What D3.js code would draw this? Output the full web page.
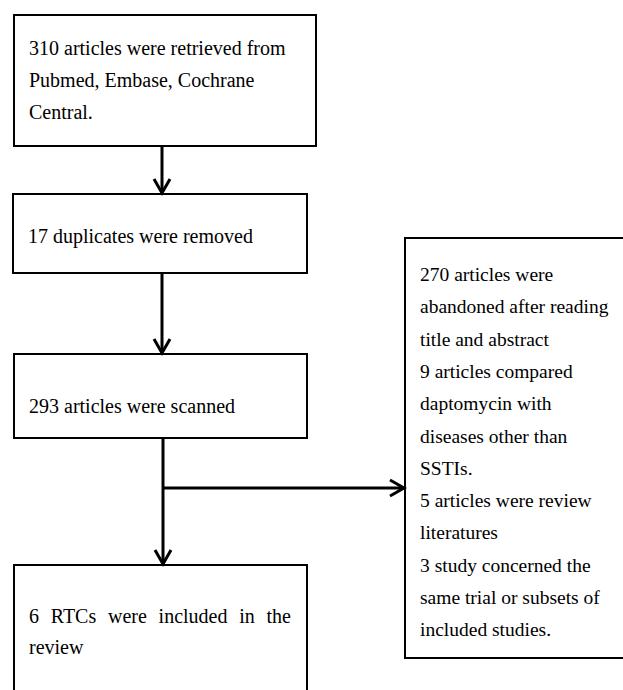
<!DOCTYPE html>
<html>
<head>
<meta charset="utf-8">
<script src="https://cdn.jsdelivr.net/npm/d3@7"></script>
<style>
  body { margin: 0; background: #fff; }
</style>
</head>
<body>
<div id="chart"></div>
<script>
// stage texts, one entry per printed line
const retrievedLines = ['310 articles were retrieved from', 'Pubmed, Embase, Cochrane', 'Central.'];
const duplicateLines = ['17 duplicates were removed'];
const scannedLines = ['293 articles were scanned'];
const includedLines = ['6 RTCs were included in the', 'review'];
const excludedLines = [
    '270 articles were',
    'abandoned after reading',
    'title and abstract',
    '9 articles compared',
    'daptomycin with',
    'diseases other than',
    'SSTIs.',
    '5 articles were review',
    'literatures',
    '3 study concerned the',
    'same trial or subsets of',
    'included studies.'
];

const width = 623, height = 690;

// layout of the boxes (page pixels)
const layout = {
    retrieved: { x0: 14, x1: 316, y0: 15, y1: 146, base: 55, gap: 32.2, size: 20 },
    duplicate: { x0: 13, x1: 307, y0: 194, y1: 273, base: 243, gap: 32, size: 20 },
    scanned:   { x0: 14, x1: 307, y0: 354, y1: 438, base: 413, gap: 32, size: 20 },
    included:  { x0: 14, x1: 307, y0: 565, y1: 700, base: 623, gap: 31, size: 20, justify: true },
    excluded:  { x0: 405, x1: 640, y0: 238, y1: 658, base: 281, gap: 32.3, size: 19.5, pad: 15 }
};

const stages = [
    { id: 'retrieved', lines: retrievedLines },
    { id: 'duplicate', lines: duplicateLines },
    { id: 'scanned', lines: scannedLines },
    { id: 'included', lines: includedLines },
    { id: 'excluded', lines: excludedLines }
];

const svg = d3.select('#chart')
    .append('svg')
    .attr('width', width)
    .attr('height', height);

const font = '"Liberation Serif", "Times New Roman", Times, serif';

// Boxes
const box = svg.append('g')
    .selectAll('g')
    .data(stages)
    .join('g');

box.append('rect')
    .attr('x', d => layout[d.id].x0)
    .attr('y', d => layout[d.id].y0)
    .attr('width', d => layout[d.id].x1 - layout[d.id].x0)
    .attr('height', d => layout[d.id].y1 - layout[d.id].y0)
    .attr('fill', '#fff')
    .attr('stroke', '#000')
    .attr('stroke-width', 2);

box.each(function(d) {
    const L = layout[d.id];
    const tx = L.x0 + (L.pad || 15);
    const g = d3.select(this);
    d.lines.forEach((line, i) => {
        const t = g.append('text')
            .attr('x', tx)
            .attr('y', L.base + i * L.gap)
            .attr('font-family', font)
            .attr('font-size', L.size)
            .attr('fill', '#000')
            .text(line);
        // justified first line in the last box
        if (L.justify && i < d.lines.length - 1) {
            const words = line.split(' ');
            const natural = t.node().getComputedTextLength();
            const target = L.x1 - 16 - tx;
            t.attr('word-spacing', (target - natural) / (words.length - 1));
        }
    });
});

// Connectors
const stemX = 162;
const arrowStroke = 3;

function arrowHead(x, y, dir) {
    // open chevron, tip at (x, y)
    const back = 14, spread = 8;
    if (dir === 'down') return `M${x - spread},${y - back}L${x},${y}L${x + spread},${y - back}`;
    return `M${x - back},${y - spread}L${x},${y}L${x - back},${y + spread}`;
}

const connectors = [
    { x1: stemX, y1: layout.retrieved.y1, x2: stemX, y2: layout.duplicate.y0, dir: 'down' },
    { x1: stemX, y1: layout.duplicate.y1, x2: stemX, y2: layout.scanned.y0, dir: 'down' },
    { x1: stemX + 1, y1: layout.scanned.y1, x2: stemX + 1, y2: layout.included.y0, dir: 'down' },
    { x1: stemX + 1, y1: 488, x2: layout.excluded.x0 - 1, y2: 488, dir: 'right' }
];

const conn = svg.append('g')
    .attr('fill', 'none')
    .attr('stroke', '#000')
    .attr('stroke-width', arrowStroke);

conn.selectAll('line')
    .data(connectors)
    .join('line')
    .attr('x1', d => d.x1)
    .attr('y1', d => d.y1)
    .attr('x2', d => d.x2)
    .attr('y2', d => d.y2);

conn.selectAll('path')
    .data(connectors)
    .join('path')
    .attr('d', d => arrowHead(d.x2, d.y2 - (d.dir === 'down' ? 1 : 0), d.dir));
</script>
</body>
</html>
